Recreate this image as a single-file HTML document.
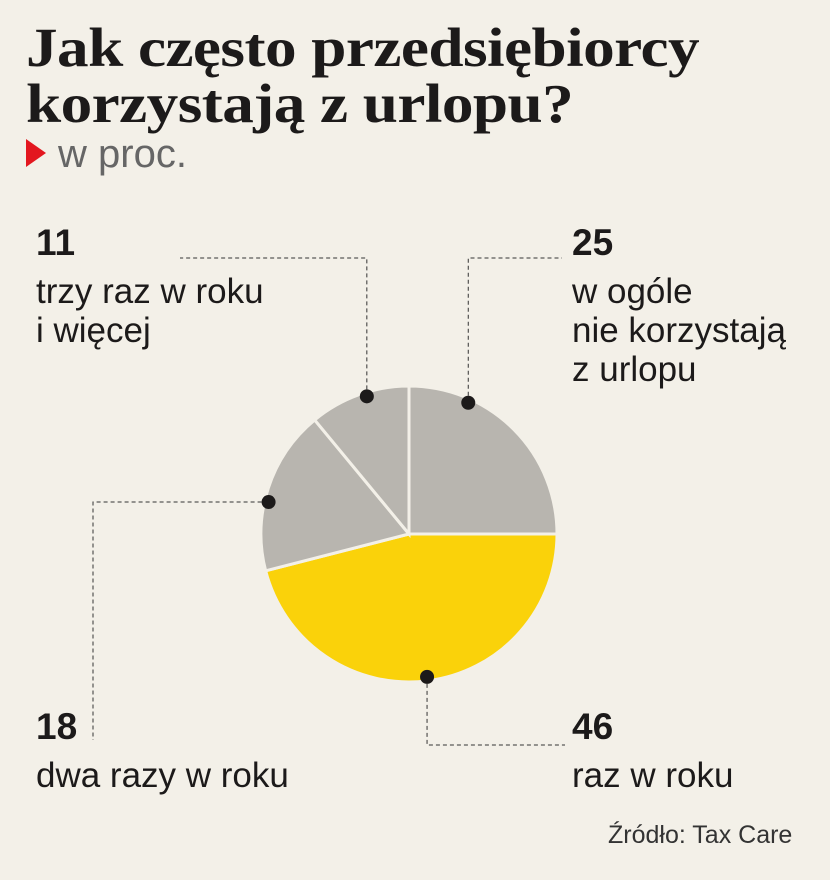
<!DOCTYPE html>
<html><head><meta charset="utf-8"><style>
body{margin:0;background:#f3f0e8;}
#root{position:relative;width:830px;height:880px;background:#f3f0e8;overflow:hidden;font-family:"Liberation Sans",sans-serif;}
.t{position:absolute;margin:0;}
h1{font-family:"Liberation Serif",serif;font-weight:bold;font-size:55px;line-height:56px;color:#1c1a1a;left:26px;top:20px;letter-spacing:-0.5px;transform:scaleX(1.15);transform-origin:0 0;white-space:nowrap;}
.num{font-weight:bold;font-size:37px;color:#1c1a1a;}
.lab{font-size:35px;line-height:39px;color:#1c1a1a;white-space:nowrap;}
</style></head><body>
<div id="root">
<h1 class="t">Jak często przedsiębiorcy<br>korzystają z urlopu?</h1>
<svg class="t" style="left:26px;top:139px" width="22" height="30"><polygon points="0,0 20,14 0,28" fill="#e3171f"/></svg>
<div class="t" style="left:58px;top:132px;font-size:40px;color:#666;">w proc.</div>
<svg id="pie" class="t" style="left:0;top:0" width="830" height="880"></svg>
<div class="t num" style="left:36px;top:222px">11</div>
<div class="t lab" style="left:36px;top:272px">trzy raz w roku<br>i więcej</div>
<div class="t num" style="left:572px;top:222px">25</div>
<div class="t lab" style="left:572px;top:272px">w ogóle<br>nie korzystają<br>z urlopu</div>
<div class="t num" style="left:36px;top:706px">18</div>
<div class="t lab" style="left:36px;top:756px">dwa razy w roku</div>
<div class="t num" style="left:572px;top:706px">46</div>
<div class="t lab" style="left:572px;top:756px">raz w roku</div>
<div class="t" style="left:608px;top:821px;font-size:25px;color:#333;">Źródło: Tax Care</div>
</div>
<script>
const categories=["w ogóle nie korzystają","raz w roku","dwa razy w roku","trzy raz w roku i więcej"];
const values=[25,46,18,11];
const colors=["#b8b5af","#fad20a","#b8b5af","#b8b5af"];
const dotFrac=[0.27,0.5,0.42,0.57];
const svg=document.getElementById('pie');
const NS='http://www.w3.org/2000/svg';
const cx=409,cy=534,r=148;
const total=values.reduce((a,b)=>a+b,0);
function pt(a,rr){return [cx+rr*Math.sin(a),cy-rr*Math.cos(a)];}
let a0=0;const mids=[];
values.forEach((v,i)=>{
 const a1=a0+v/total*2*Math.PI;
 const p0=pt(a0,r),p1=pt(a1,r);
 const path=document.createElementNS(NS,'path');
 path.setAttribute('d',`M${cx},${cy}L${p0[0]},${p0[1]}A${r},${r} 0 ${a1-a0>Math.PI?1:0} 1 ${p1[0]},${p1[1]}Z`);
 path.setAttribute('fill',colors[i]);path.setAttribute('stroke','#f3f0e8');path.setAttribute('stroke-width','3');
 
 
 svg.appendChild(path);
 mids.push(a0+(a1-a0)*dotFrac[i]);a0=a1;
});
const leaders=[
 (d)=>`M${d[0]},${d[1]}V258H562`,
 (d)=>`M${d[0]},${d[1]}V745H565`,
 (d)=>`M${d[0]},${d[1]}H93V740`,
 (d)=>`M${d[0]},${d[1]}V258H180`
];
mids.forEach((m,i)=>{
 const d=pt(m,r-4);
 const l=document.createElementNS(NS,'path');
 l.setAttribute('d',leaders[i](d));l.setAttribute('fill','none');l.setAttribute('stroke','#333');l.setAttribute('stroke-width','1');l.setAttribute('stroke-dasharray','4,3');
 
 
 svg.appendChild(l);
 const c=document.createElementNS(NS,'circle');
 c.setAttribute('cx',d[0]);c.setAttribute('cy',d[1]);c.setAttribute('r','7');c.setAttribute('fill','#1c1a1a');
 
 
 svg.appendChild(c);
});
</script>
</body></html>
